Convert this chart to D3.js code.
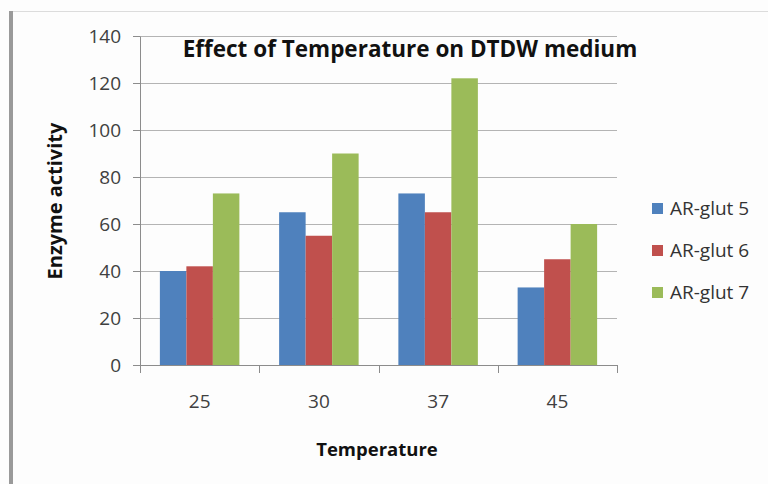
<!DOCTYPE html>
<html>
<head>
<meta charset="utf-8">
<script src="https://cdn.jsdelivr.net/npm/d3@7"></script>
<style>
  html, body { margin: 0; padding: 0; background: #fdfdfd; }
  svg { display: block; }
  text { font-family: "Open Sans", sans-serif; }
</style>
</head>
<body>
<svg></svg>
<script>
var temps = ['25', '30', '37', '45']
  , series = ['AR-glut 5', 'AR-glut 6', 'AR-glut 7']
  , glut5 = [40, 65, 73, 33]
  , glut6 = [42, 55, 65, 45]
  , glut7 = [73, 90, 122, 60]
  , yTicks = [0, 20, 40, 60, 80, 100, 120, 140]
  , colors = ['#4f81bd', '#c0504d', '#9bbb59']

var values = [glut5, glut6, glut7]
var W = 768, H = 484
var svg = d3.select('svg').attr('width', W).attr('height', H)

// page frame: thick left rule and thin top rule
svg.append('rect').attr('x', 9).attr('y', 11).attr('width', 4).attr('height', H - 11).attr('fill', '#9a9a9a')
svg.append('line').attr('x1', 13).attr('x2', W).attr('y1', 11.5).attr('y2', 11.5)
  .attr('stroke', '#dcdcdc')

var plot = { left: 140, right: 617, top: 36, bottom: 365 }

var x = d3.scaleBand().domain(temps).range([plot.left, plot.right])
  .paddingInner(1 / 3).paddingOuter(1 / 6)
var xs = d3.scaleBand().domain(series).range([0, x.bandwidth()])
var y = d3.scaleLinear().domain([0, 140]).range([plot.bottom, plot.top])

// gridlines
svg.append('g').selectAll('line').data(yTicks.slice(1)).enter().append('line')
  .attr('x1', plot.left).attr('x2', plot.right)
  .attr('y1', function (d) { return Math.round(y(d)) + .5 })
  .attr('y2', function (d) { return Math.round(y(d)) + .5 })
  .attr('stroke', '#b4b4b4').attr('stroke-width', 1.2)

// bars
svg.append('g').selectAll('g').data(series).enter().append('g')
  .attr('fill', function (d, i) { return colors[i] })
  .selectAll('rect').data(function (d, i) { return values[i].map(function (v, j) { return { s: d, t: temps[j], v: v } }) })
  .enter().append('rect')
  .attr('x', function (d) { return x(d.t) + xs(d.s) })
  .attr('width', xs.bandwidth())
  .attr('y', function (d) { return y(d.v) })
  .attr('height', function (d) { return y(0) - y(d.v) })

// y axis
var yAxis = svg.append('g').attr('transform', 'translate(' + plot.left + ',0)')
  .call(d3.axisLeft(y).tickValues(yTicks).tickSize(7).tickSizeOuter(0).tickPadding(12))
yAxis.select('.domain').attr('stroke', '#8c8c8c')
yAxis.selectAll('.tick line').attr('stroke', '#8c8c8c')
yAxis.selectAll('text').attr('font-size', 19).attr('fill', '#404040')
  .attr('font-family', '"Open Sans", sans-serif')

// x axis: category labels centred, ticks on band boundaries
var xAxis = svg.append('g').attr('transform', 'translate(0,' + plot.bottom + ')')
  .call(d3.axisBottom(x).tickSize(0).tickPadding(30))
xAxis.select('.domain').remove()
xAxis.selectAll('text').attr('font-size', 19).attr('fill', '#404040')
  .attr('font-family', '"Open Sans", sans-serif')
xAxis.append('line').attr('x1', plot.left).attr('x2', plot.right).attr('y1', .5).attr('y2', .5)
  .attr('stroke', '#8c8c8c')
var bounds = temps.map(function (t) { return x(t) - x.step() * x.paddingInner() / 2 })
bounds.push(plot.right)
bounds[0] = plot.left
xAxis.selectAll('.bound').data(bounds).enter().append('line').attr('class', 'bound')
  .attr('x1', function (d) { return Math.round(d) + .5 }).attr('x2', function (d) { return Math.round(d) + .5 })
  .attr('y1', 0).attr('y2', 8).attr('stroke', '#8c8c8c')

// titles
svg.append('text').attr('x', 410).attr('y', 57).attr('text-anchor', 'middle')
  .attr('font-size', 22.5).attr('font-weight', 'bold').attr('fill', '#111')
  .text('Effect of Temperature on DTDW medium')
svg.append('text').attr('x', 377).attr('y', 456).attr('text-anchor', 'middle')
  .attr('font-size', 18.5).attr('font-weight', 'bold').attr('fill', '#111')
  .text('Temperature')
svg.append('text').attr('transform', 'translate(62,201) rotate(-90)').attr('text-anchor', 'middle')
  .attr('font-size', 20).attr('font-weight', 'bold').attr('fill', '#111')
  .text('Enzyme activity')

// legend
var legend = svg.append('g').selectAll('g').data(series).enter().append('g')
  .attr('transform', function (d, i) { return 'translate(652,' + (208 + i * 42) + ')' })
legend.append('rect').attr('x', 0).attr('y', -5).attr('width', 11).attr('height', 11)
  .attr('fill', function (d, i) { return colors[i] })
legend.append('text').attr('x', 18).attr('y', 7).attr('font-size', 19).attr('fill', '#333')
  .text(function (d) { return d })
</script>
</body>
</html>
